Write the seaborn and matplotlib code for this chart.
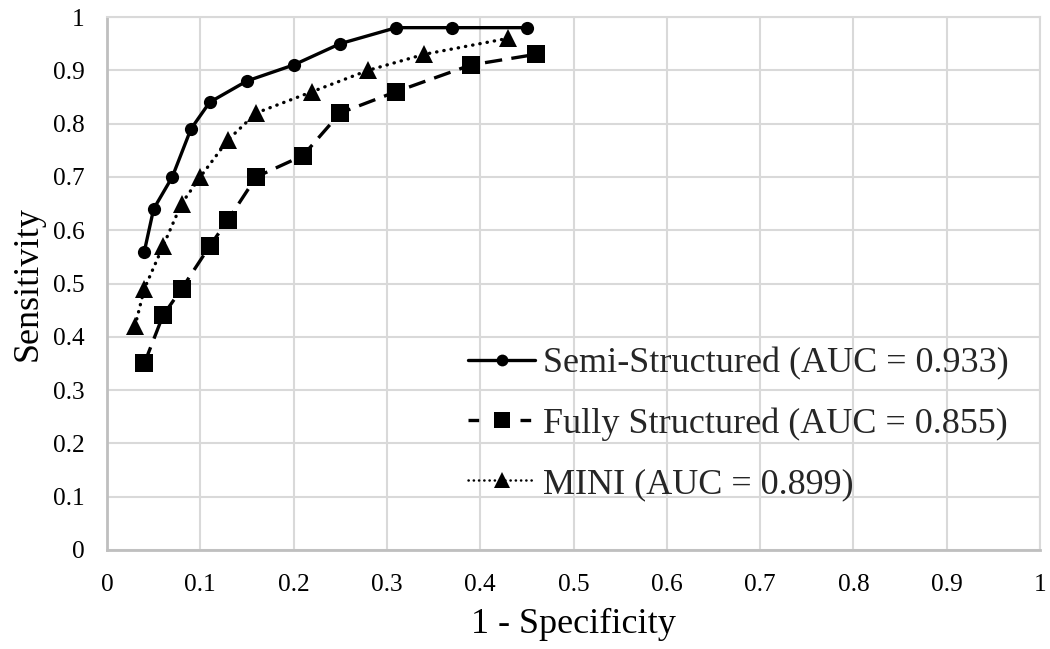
import matplotlib
matplotlib.use("Agg")
import matplotlib.pyplot as plt
from matplotlib.lines import Line2D
import seaborn as sns
import pandas as pd

# Data
semi_x = [0.04, 0.05, 0.07, 0.09, 0.11, 0.15, 0.20, 0.25, 0.31, 0.37, 0.45]
semi_y = [0.56, 0.64, 0.70, 0.79, 0.84, 0.88, 0.91, 0.95, 0.98, 0.98, 0.98]
full_x = [0.04, 0.06, 0.08, 0.11, 0.13, 0.16, 0.21, 0.25, 0.31, 0.39, 0.46]
full_y = [0.35, 0.44, 0.49, 0.57, 0.62, 0.70, 0.74, 0.82, 0.86, 0.91, 0.93]
mini_x = [0.03, 0.04, 0.06, 0.08, 0.10, 0.13, 0.16, 0.22, 0.28, 0.34, 0.43]
mini_y = [0.42, 0.49, 0.57, 0.65, 0.70, 0.77, 0.82, 0.86, 0.90, 0.93, 0.96]
labels = ["Semi-Structured (AUC = 0.933)",
          "Fully Structured (AUC = 0.855)",
          "MINI (AUC = 0.899)"]
ticks = [0, 0.1, 0.2, 0.3, 0.4, 0.5, 0.6, 0.7, 0.8, 0.9, 1]
tick_labels = ["0", "0.1", "0.2", "0.3", "0.4", "0.5", "0.6", "0.7", "0.8", "0.9", "1"]

sns.set_theme(style="white")
plt.rcParams['font.family'] = ['Liberation Serif', 'DejaVu Serif']

fig = plt.figure(figsize=(10.5, 6.49), dpi=100)
ax = fig.add_axes([107/1050, 1 - 550/649, 933/1050, 533/649])

lw = 2.4
df_semi = pd.DataFrame({"x": semi_x, "y": semi_y})
df_full = pd.DataFrame({"x": full_x, "y": full_y})
df_mini = pd.DataFrame({"x": mini_x, "y": mini_y})

sns.lineplot(data=df_semi, x="x", y="y", ax=ax, color="black", lw=lw,
             marker="o", markersize=9.5, markeredgewidth=0, sort=False, zorder=5)
sns.lineplot(data=df_full, x="x", y="y", ax=ax, color="black", lw=lw,
             marker="s", markersize=12.5, markeredgewidth=0, sort=False, zorder=5,
             linestyle=(0, (5.2, 2.8)))
sns.lineplot(data=df_mini, x="x", y="y", ax=ax, color="black", lw=lw,
             marker="^", markersize=13.5, markeredgewidth=0, sort=False, zorder=5,
             linestyle=(0, (0.1, 2.1)), dash_capstyle="round")

ax.set_xlim(0, 1)
ax.set_ylim(0, 1)
ax.set_xticks(ticks)
ax.set_xticklabels(tick_labels)
ax.set_yticks(ticks)
ax.set_yticklabels(tick_labels)
ax.tick_params(axis="both", length=0, labelsize=18.3, labelcolor="black")
ax.tick_params(axis="x", pad=17)
ax.tick_params(axis="y", pad=16)
ax.grid(True, color="#d9d9d9", lw=1.5)
ax.set_axisbelow(True)
for s in ["top", "right"]:
    ax.spines[s].set_color("#d9d9d9")
    ax.spines[s].set_linewidth(1.5)
for s in ["left", "bottom"]:
    ax.spines[s].set_color("#bfbfbf")
    ax.spines[s].set_linewidth(2)

ax.set_xlabel("1 - Specificity", fontsize=26, color="black", labelpad=9)
ax.set_ylabel("Sensitivity", fontsize=26, color="black", labelpad=6)

handles = [
    Line2D([], [], color="black", lw=lw, marker="o", markersize=8.5, markeredgewidth=0),
    Line2D([], [], color="black", lw=lw, marker="s", markersize=11, markeredgewidth=0,
           linestyle=(0, (3.2, 4.6))),
    Line2D([], [], color="black", lw=1.8, marker="^", markersize=12, markeredgewidth=0,
           linestyle=(0, (0.1, 2.0)), dash_capstyle="round"),
]
leg = ax.legend(handles, labels, loc="center left", bbox_to_anchor=(0.387, 0.236),
                frameon=False, fontsize=26, handlelength=1.86, handletextpad=0.22,
                labelspacing=0.74, borderaxespad=0, borderpad=0)

fig.savefig("out.png", dpi=100)
